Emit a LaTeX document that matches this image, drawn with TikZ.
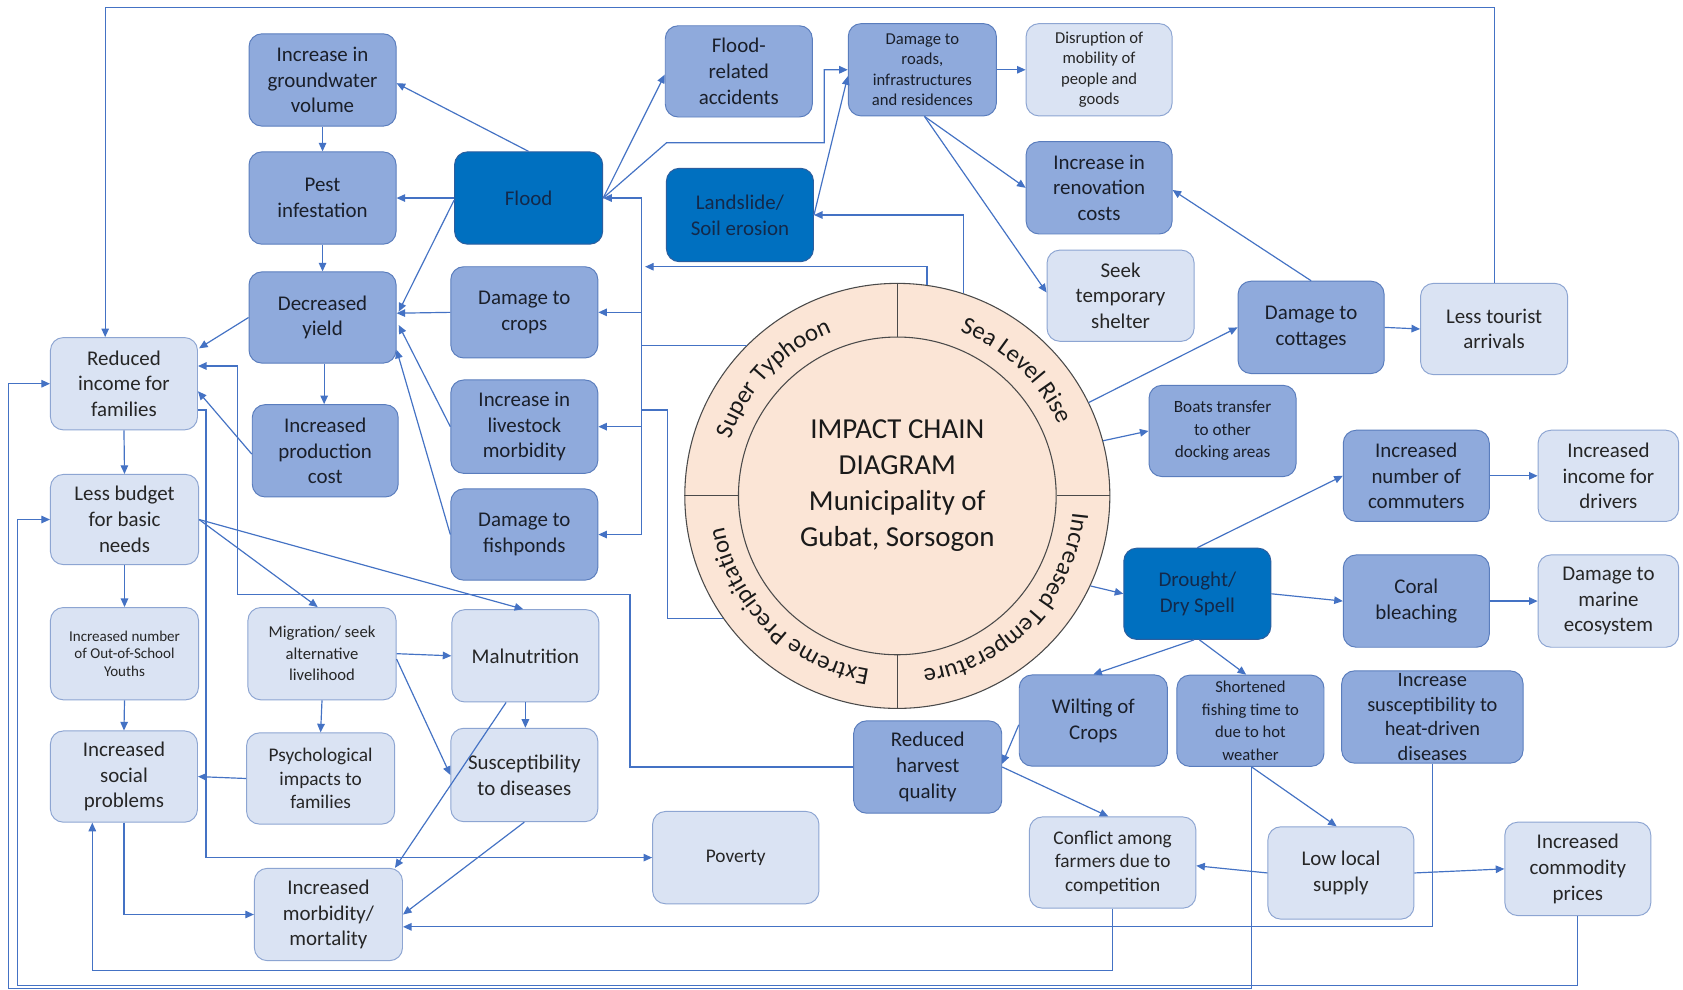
\documentclass[tikz,border=0pt]{standalone}
\usepackage{fontspec}
\setmainfont{Carlito}
\usetikzlibrary{arrows.meta,calc,decorations.text}

\definecolor{lightfill}{HTML}{DAE3F3}
\definecolor{lightline}{HTML}{8DA5D2}
\definecolor{lighttext}{HTML}{262626}
\definecolor{midfill}{HTML}{8FAADC}
\definecolor{midline}{HTML}{5A7DBD}
\definecolor{midtext}{HTML}{1A1F2A}
\definecolor{darkfill}{HTML}{0070C0}
\definecolor{darkline}{HTML}{2C5E9E}
\definecolor{darktext}{HTML}{13294A}
\definecolor{linkblue}{HTML}{4472C4}
\definecolor{peach}{HTML}{FBE5D6}
\definecolor{ringline}{HTML}{4A4A4A}
\definecolor{ringtext}{HTML}{1A1A1A}

\newcommand\ringfont{\fontsize{23}{23}\selectfont}

\tikzset{
  box/.style={rectangle, rounded corners=12pt, line width=0.9pt, align=center,
    inner sep=2pt, minimum width=137pt, minimum height=85pt,
    font=\fontsize{19.5}{24}\selectfont},
  lightbox/.style={box, fill=lightfill, draw=lightline, text=lighttext},
  midbox/.style={box, fill=midfill, draw=midline, text=midtext},
  darkbox/.style={box, fill=darkfill, draw=darkline, text=darktext},
  smalltext/.style={font=\fontsize{15.5}{19}\selectfont},
  link/.style={draw=linkblue, line width=1.1pt},
  conn/.style={link, -{Triangle[length=8pt,width=7pt]}},
  ringedge/.style={draw=ringline, line width=1pt},
}

\begin{document}
\begin{tikzpicture}[x=1pt,y=-1pt]
\path[use as bounding box, fill=white] (0,0) rectangle (1568,922);

% ---------- central hazard wheel ----------
\node[circle, minimum size=396pt, inner sep=0pt, fill=peach, ringedge] (hub) at (836,462) {};
\node[circle, minimum size=296pt, inner sep=0pt, fill=peach, ringedge] (core) at (836,462) {};
\draw[ringedge] (hub.north) -- (core.north);
\draw[ringedge] (hub.south) -- (core.south);
\draw[ringedge] (hub.west) -- (core.west);
\draw[ringedge] (hub.east) -- (core.east);
\node[font=\fontsize{27}{33.5}\selectfont, align=center, text=ringtext] (title) at (836,452)
  {IMPACT CHAIN\\DIAGRAM\\Municipality of\\Gubat, Sorsogon};

\path[decorate, decoration={text along path, text align=center,
    text={|\color{ringtext}\ringfont|Super Typhoon}}]
  (hub.center) ++(-216.5:164) arc[start angle=-216.5, end angle=-56.5, radius=164];
\path[decorate, decoration={text along path, text align=center,
    text={|\color{ringtext}\ringfont|Sea Level Rise}}]
  (hub.center) ++(-126.5:164) arc[start angle=-126.5, end angle=33.5, radius=164];
\path[decorate, decoration={text along path, text align=center,
    text={|\color{ringtext}\ringfont|Increased Temperature}}]
  (hub.center) ++(-36.5:164) arc[start angle=-36.5, end angle=123.5, radius=164];
\path[decorate, decoration={text along path, text align=center,
    text={|\color{ringtext}\ringfont|Extreme Precipitation}}]
  (hub.center) ++(-305.5:164) arc[start angle=-305.5, end angle=-145.5, radius=164];

% ---------- left columns ----------
\node[lightbox, minimum height=86pt] (incfam) at (115.5,357.5) {Reduced\\income for\\families};
\node[lightbox, minimum width=138pt, minimum height=84pt] (budget) at (116,484) {Less budget\\for basic\\needs};
\node[lightbox, minimum width=138pt, minimum height=86pt, font=\fontsize{14}{16.5}\selectfont] (osy) at (116,609)
  {Increased number\\of Out-of-School\\Youths};
\node[lightbox] (social) at (115.5,723.5) {Increased\\social\\problems};

\node[midbox, minimum height=86pt] (gw) at (300.5,74.5) {Increase in\\groundwater\\volume};
\node[midbox, minimum height=86pt] (pest) at (300.5,184.5) {Pest\\infestation};
\node[midbox] (yield) at (300.5,295.8) {Decreased\\yield};
\node[midbox, minimum width=136pt, minimum height=86pt] (prodcost) at (303,420) {Increased\\production\\cost};
\node[lightbox, minimum width=138pt, minimum height=86pt, smalltext, font=\fontsize{15.5}{20}\selectfont] (migr) at (300,609)
  {Migration/ seek\\alternative\\livelihood};
\node[lightbox, minimum width=138pt, font=\fontsize{18}{22}\selectfont] (psych) at (298.7,725.3) {Psychological\\impacts to\\families};
\node[lightbox, minimum width=138pt, minimum height=86pt] (morb) at (306,852) {Increased\\morbidity/\\mortality};

\node[darkbox, minimum width=138pt, minimum height=86pt] (flood) at (492.5,184.5) {Flood};
\node[midbox] (crops) at (488.5,291) {Damage to\\crops};
\node[midbox, minimum height=87pt] (livestock) at (488.5,397.5) {Increase in\\livestock\\morbidity};
\node[midbox] (fish) at (488.5,498) {Damage to\\fishponds};
\node[lightbox, minimum height=86pt] (maln) at (489.5,611) {Malnutrition};
\node[lightbox, minimum height=87pt] (susc) at (488.5,722) {Susceptibility\\to diseases};
\node[lightbox, minimum width=155pt, minimum height=86pt, font=\fontsize{18}{22}\selectfont] (poverty) at (685.5,799) {Poverty};

% ---------- upper middle ----------
\node[midbox] (accid) at (688.3,66.5) {Flood-\\related\\accidents};
\node[darkbox, minimum height=87pt] (landslide) at (689.4,200.3) {Landslide/\\Soil erosion};
\node[midbox, minimum width=138pt, minimum height=86pt, smalltext] (roads) at (859.3,65)
  {Damage to\\roads,\\infrastructures\\and residences};
\node[lightbox, minimum width=136pt, minimum height=86pt, smalltext] (disrupt) at (1024,65)
  {Disruption of\\mobility of\\people and\\goods};
\node[midbox, minimum width=136pt, minimum height=86pt] (renov) at (1024,175) {Increase in\\renovation\\costs};
\node[lightbox] (shelter) at (1044,275.5) {Seek\\temporary\\shelter};
\node[midbox, minimum width=136pt, minimum height=86pt] (cottages) at (1221.5,305) {Damage to\\cottages};
\node[lightbox] (tourist) at (1392,306.5) {Less tourist\\arrivals};
\node[midbox, font=\fontsize{16}{21}\selectfont] (boats) at (1139,401.5) {Boats transfer\\to other\\docking areas};

% ---------- right side ----------
\node[midbox, minimum width=136pt] (commuters) at (1319.5,443.3) {Increased\\number of\\commuters};
\node[lightbox, minimum width=131pt] (drivers) at (1498.5,443.3) {Increased\\income for\\drivers};
\node[darkbox] (drought) at (1115.5,553.2) {Drought/\\Dry Spell};
\node[midbox, minimum width=136pt, minimum height=86pt] (coral) at (1319.5,560) {Coral\\bleaching};
\node[lightbox, minimum width=131pt, minimum height=86pt] (marine) at (1498.5,560) {Damage to\\marine\\ecosystem};
\node[midbox, minimum width=138pt] (wilting) at (1018.6,671.3) {Wilting of\\Crops};
\node[midbox, font=\fontsize{15.5}{21}\selectfont] (shortfish) at (1165,671.5)
  {Shortened\\fishing time to\\due to hot\\weather};
\node[midbox, minimum width=169pt, minimum height=86pt, font=\fontsize{19}{23}\selectfont] (heat) at (1334.5,668)
  {Increase\\susceptibility to\\heat-driven\\diseases};
\node[midbox, minimum width=138pt, minimum height=86pt] (harvest) at (864.3,714.6) {Reduced\\harvest\\quality};
\node[lightbox, minimum width=155pt, font=\fontsize{18}{22}\selectfont] (conflict) at (1036.6,803.6)
  {Conflict among\\farmers due to\\competition};
\node[lightbox, minimum width=136pt, minimum height=86pt] (supply) at (1249.3,813.3) {Low local\\supply};
\node[lightbox, minimum width=136pt, minimum height=87pt] (commodity) at (1470,809.5) {Increased\\commodity\\prices};

% ---------- connectors ----------
\coordinate (trunkTop) at (598,184.5);
\coordinate (trunkBot) at (598,498);

% hazards into the shared trunk
\draw[link] (hub.135) -- (hub.135 -| trunkTop);
\draw[link] (hub.215) -| (621.5,382) -- (598,382);
\draw[conn] (hub.82) |- (601,248.5);
\draw[link] (trunkTop) -- (trunkBot);
\draw[conn] (trunkTop) -- (flood.east);
\draw[conn] (trunkTop |- crops.east) -- (crops.east);
\draw[conn] (trunkTop |- livestock.east) -- (livestock.east);
\draw[conn] (trunkBot) -- (fish.east);

% flood chain
\draw[conn] (flood.north) -- ($(gw.east)+(0,3)$);
\draw[conn] (flood.west) -- (pest.east);
\draw[conn] ($(flood.west)+(0,2)$) -- ($(yield.east)+(2,-5.5)$);
\draw[conn] (flood.east) -- ($(accid.west)+(0,3)$);
\draw[conn] (flood.east) -- (621,133) -- (768,133) |- (roads.west);
\draw[conn] (gw.south) -- (pest.north);
\draw[conn] (pest.south) -- (yield.north);
\draw[conn] ($(yield.south)+(1.5,0)$) -- ($(prodcost.north)+(-1,0)$);
\draw[conn] (crops.west) -- ($(yield.east)+(0,-4)$);
\draw[conn] (livestock.west) -- ($(yield.east)+(2,7)$);
\draw[conn] (fish.west) -- ($(yield.east)+(0,30)$);

% sea level rise chain
\draw[conn] (hub.72) |- (landslide.east);
\draw[conn] (landslide.east) -- ($(roads.west)+(0,6)$);
\draw[conn] (roads.east) -- (disrupt.west);
\draw[conn] ($(roads.south)+(2,0)$) -- (renov.west);
\draw[conn] ($(roads.south)+(2,0)$) -- ($(shelter.west)+(0,-3)$);
\draw[conn] (hub.26) -- (cottages.west);
\draw[conn] (hub.15) -- (boats.west);
\draw[conn] (cottages.north) -- ($(renov.east)+(0,2)$);
\draw[conn] (cottages.east) -- (tourist.west);
\draw[conn] (tourist.north) |- (98,7) -- ($(incfam.north)+(-17.5,0)$);

% temperature chain
\draw[conn] (hub.335) -- (drought.west);
\draw[conn] (drought.north) -- (commuters.west);
\draw[conn] (drought.east) -- (coral.west);
\draw[conn] (commuters.east) -- (drivers.west);
\draw[conn] (coral.east) -- (marine.west);
\draw[conn] ($(drought.south)+(-3,0)$) -- (wilting.north);
\draw[conn] ($(drought.south)+(2,0)$) -- ($(shortfish.north)+(-4,0)$);
\draw[conn] ($(wilting.west)+(0,4)$) -- ($(harvest.east)+(0,-3)$);
\draw[conn] (harvest.east) -- ($(conflict.north)+(-4,0)$);
\draw[conn] (harvest.west) -| (587,554) -| (221,341) -- ($(incfam.east)+(0,-16.5)$);
\draw[conn] ($(shortfish.south)+(1,0)$) -- ($(supply.north)+(-4,0)$);
\draw[conn] (supply.west) -- ($(conflict.east)+(0,3)$);
\draw[conn] (supply.east) -- (commodity.west);
\draw[conn] (heat.south) |- ($(morb.east)+(0,11.5)$);
\draw[conn] (conflict.south) |- (86,904) -- ($(social.south)+(-29.5,0)$);
\draw[conn] (commodity.south) |- (16,918) |- (budget.west);
\draw[conn] ($(shortfish.south)+(1,0)$) -- (1166,921) -- (8,921) |- (incfam.west);

% household consequences
\draw[conn] (yield.west) -- ($(incfam.east)+(1,-33)$);
\draw[conn] ($(prodcost.west)+(0,3)$) -- ($(incfam.east)+(0,7)$);
\draw[conn] (incfam.south) -- (budget.north);
\draw[conn] ($(incfam.east)+(0,24.5)$) -| (192,799) -- (poverty.west);
\draw[conn] (budget.south) -- (osy.north);
\draw[conn] (budget.east) -- ($(migr.north)+(-4,0)$);
\draw[conn] (budget.east) -- ($(maln.north)+(-2,0)$);
\draw[conn] (osy.south) -- (social.north);
\draw[conn] (psych.west) -- (social.east);
\draw[conn] (migr.south) -- (psych.north);
\draw[conn] (migr.east) -- (maln.west);
\draw[conn] ($(migr.east)+(0,5)$) -- (susc.west);
\draw[conn] (maln.south) -- (maln.south |- susc.north);
\draw[conn] ($(maln.south)+(-18,0)$) -- ($(morb.north)+(62,0)$);
\draw[conn] (susc.south) -- (morb.east);
\draw[conn] (social.south) |- (morb.west);
\end{tikzpicture}
\end{document}
